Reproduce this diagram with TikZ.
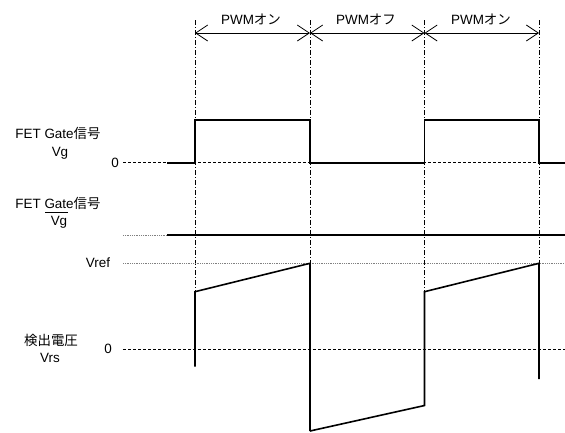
\documentclass[tikz,border=0pt]{standalone}
\usepackage{fontspec}
\setmainfont{Liberation Sans}
\newfontfamily\jp{Noto Sans CJK JP}
\usetikzlibrary{arrows.meta}
\begin{document}
\begin{tikzpicture}[x=1bp,y=-1bp,
  lbl/.style={inner sep=0pt,font=\fontsize{13.5}{15}\selectfont},
  wave/.style={line width=1.6bp,line join=miter},
  guide/.style={line width=0.6bp,dash pattern=on 5bp off 2bp on 1bp off 2bp},
  zero/.style={line width=0.8bp,dash pattern=on 3bp off 2bp},
  fine/.style={line width=0.8bp,gray,densely dotted},
  span/.style={line width=0.8bp,{Straight Barb[length=12bp,width=16bp,line width=0.8bp]}-{Straight Barb[length=12bp,width=16bp,line width=0.8bp]}}]
\useasboundingbox (0,0) rectangle (565,432);
% guides
\coordinate (g1t) at (195,20); \coordinate (g1b) at (195,292);
\coordinate (g2t) at (310,20); \coordinate (g2b) at (310,263);
\coordinate (g3t) at (424.5,20); \coordinate (g3b) at (424.5,292);
\coordinate (g4t) at (539,20); \coordinate (g4b) at (539,263);
\foreach \i in {1,...,4} \draw[guide] (g\i t) -- (g\i b);
% spans
\coordinate (a1) at (195,33); \coordinate (a2) at (310,33);
\coordinate (a3) at (424.5,33); \coordinate (a4) at (539,33);
\draw[span] (a1) -- (a2);
\draw[span] (a2) -- (a3);
\draw[span] (a3) -- (a4);
\node[lbl] (on1) at (251,19) {PWM{\jp オン}};
\node[lbl] (off) at (366,19) {PWM{\jp オフ}};
\node[lbl] (on2) at (481,19) {PWM{\jp オン}};
% labels
\node[lbl] (gl1) at (58,133) {FET Gate{\jp 信号}};
\node[lbl] (vg) at (60,153) {Vg};
\node[lbl] (z1) at (115,162.5) {0};
\node[lbl] (gl2) at (58,203) {FET Gate{\jp 信号}};
\node[lbl] (vgb) at (59,222) {Vg};
\draw[line width=0.7bp] (45,212) -- (68,212);
\node[lbl] (vref) at (98,263) {Vref};
\node[lbl] (det) at (51,340) {\jp 検出電圧};
\node[lbl] (vrs) at (50,358) {Vrs};
\node[lbl] (z2) at (108,348.5) {0};
% Vg
\coordinate (z1s) at (123,162.7); \coordinate (z1e) at (565,162.7);
\draw[zero] (z1s) -- (z1e);
\draw[wave] (167,162.7) -- (195,162.7) -- (195,120) -- (310,120) -- (310,162.7) -- (424.5,162.7) -- (424.5,120) -- (539,120) -- (539,162.7) -- (565,162.7);
% Vg bar
\coordinate (vbs) at (123,235); \coordinate (vbm) at (167,235); \coordinate (vbe) at (565,235);
\draw[fine] (vbs) -- (vbm);
\draw[wave] (vbm) -- (vbe);
% Vref
\coordinate (vrs1) at (123,263.3); \coordinate (vre1) at (565,263.3);
\draw[fine] (vrs1) -- (vre1);
% Vrs zero
\coordinate (z2s) at (123,349); \coordinate (z2e) at (565,349);
\draw[zero] (z2s) -- (z2e);
% Vrs wave
\draw[wave] (195,366.5) -- (195,291.7) -- (310,263.3) -- (310,431);
\draw[wave] (310,431) -- (424.5,405.5) -- (424.5,291.7) -- (539,263.3) -- (539,379);
\end{tikzpicture}
\end{document}
